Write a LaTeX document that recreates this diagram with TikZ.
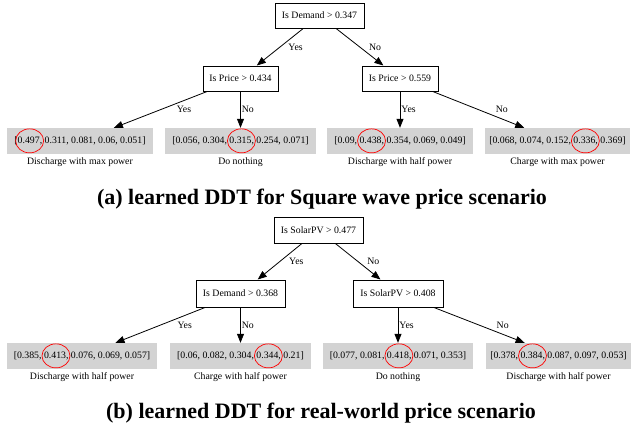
\documentclass[tikz,border=0pt]{standalone}
\usepackage{fontspec}
\setmainfont{Liberation Serif}
\usetikzlibrary{arrows.meta}
\definecolor{leafgray}{HTML}{D3D3D3}
\newcommand\rc[1]{{\tikz[baseline=(q.base)]{\node[inner sep=0pt, minimum width=0pt, minimum height=0pt, draw=none, fill=none, anchor=center, xshift=0pt, yshift=0pt] (q) {#1};\draw[red,line width=0.7pt,overlay] ([xshift=-0.3pt,yshift=0.3pt]q.center) ellipse [x radius=14pt, y radius=12pt];}}}
\tikzset{
  treefont/.style={font=\fontsize{9.8}{11}\selectfont},
  decision/.style={treefont, draw=black, line width=1pt, fill=white, inner sep=0pt, minimum height=25pt},
  leaf/.style={treefont, fill=leafgray, inner sep=0pt, minimum height=26pt},
  action/.style={treefont, inner sep=1pt},
  arr/.style={-{Triangle[length=9pt,width=7pt]}, line width=0.8pt, black},
  lbl/.style={treefont, inner sep=1pt, anchor=west, midway},
  title/.style={font=\fontsize{22}{25}\selectfont\bfseries, inner sep=0pt}
}
\begin{document}
\begin{tikzpicture}[x=1pt,y=-1pt]
\useasboundingbox (0,0) rectangle (631,432);
% ---------- (a) ----------
\node[decision, minimum width=89pt] (a0) at (319.5,15.5) {Is Demand > 0.347};
\node[decision, minimum width=75pt] (a1) at (240.5,78.5) {Is Price > 0.434};
\node[decision, minimum width=76pt] (a2) at (400,78.5) {Is Price > 0.559};
\node[leaf, minimum width=146pt] (aL1) at (80,141) {[\rc{0.497,} 0.311, 0.081, 0.06, 0.051]};
\node[leaf, minimum width=151pt] (aL2) at (240.5,141) {[0.056, 0.304, \rc{0.315,} 0.254, 0.071]};
\node[leaf, minimum width=146pt] (aL3) at (400,141) {[0.09, \rc{0.438,} 0.354, 0.069, 0.049]};
\node[leaf, minimum width=145pt] (aL4) at (557.5,141) {[0.068, 0.074, 0.152, \rc{0.336,} 0.369]};
\node[action] (aA1) at ([yshift=-8pt]aL1.south) {Discharge with max power};
\node[action] (aA2) at ([yshift=-8pt]aL2.south) {Do nothing};
\node[action] (aA3) at ([yshift=-8pt]aL3.south) {Discharge with half power};
\node[action] (aA4) at ([yshift=-8pt]aL4.south) {Charge with max power};
\draw[arr] (a0) -- node[lbl, xshift=7pt] (ay0) {Yes} (a1);
\draw[arr] (a0) -- node[lbl, xshift=8pt] (an0) {No} (a2);
\draw[arr] (a1) -- node[lbl, xshift=15pt] (ay1) {Yes} (aL1);
\draw[arr] (a1) -- node[lbl, xshift=0pt] (an1) {No} (aL2);
\draw[arr] (a2) -- node[lbl, xshift=0pt] (ay2) {Yes} (aL3);
\draw[arr] (a2) -- node[lbl, xshift=16pt] (an2) {No} (aL4);
\node[title] (ta) at (322,199) {(a) learned DDT for Square wave price scenario};
% ---------- (b) ----------
\node[decision, minimum width=89pt, minimum height=26pt] (b0) at (318.5,230) {Is SolarPV > 0.477};
\node[decision, minimum width=89pt, minimum height=27pt] (b1) at (240.5,293.5) {Is Demand > 0.368};
\node[decision, minimum width=90pt, minimum height=27pt] (b2) at (398,293.5) {Is SolarPV > 0.408};
\node[leaf, minimum width=150pt] (bL1) at (82,356) {[0.385, \rc{0.413,} 0.076, 0.069, 0.057]};
\node[leaf, minimum width=141pt] (bL2) at (240.5,356) {[0.06, 0.082, 0.304, \rc{0.344,} 0.21]};
\node[leaf, minimum width=150pt] (bL3) at (398,356) {[0.077, 0.081, \rc{0.418,} 0.071, 0.353]};
\node[leaf, minimum width=145pt] (bL4) at (558.5,356) {[0.378, \rc{0.384,} 0.087, 0.097, 0.053]};
\node[action] (bA1) at ([yshift=-8pt]bL1.south) {Discharge with half power};
\node[action] (bA2) at ([yshift=-8pt]bL2.south) {Charge with half power};
\node[action] (bA3) at ([yshift=-8pt]bL3.south) {Do nothing};
\node[action] (bA4) at ([yshift=-8pt]bL4.south) {Discharge with half power};
\draw[arr] (b0) -- node[lbl, xshift=8pt] (by0) {Yes} (b1);
\draw[arr] (b0) -- node[lbl, xshift=8pt] (bn0) {No} (b2);
\draw[arr] (b1) -- node[lbl, xshift=16pt] (by1) {Yes} (bL1);
\draw[arr] (b1) -- node[lbl, xshift=0pt] (bn1) {No} (bL2);
\draw[arr] (b2) -- node[lbl, xshift=0pt] (by2) {Yes} (bL3);
\draw[arr] (b2) -- node[lbl, xshift=16pt] (bn2) {No} (bL4);
\node[title] (tb) at (321,413) {(b) learned DDT for real-world price scenario};
\end{tikzpicture}
\end{document}
